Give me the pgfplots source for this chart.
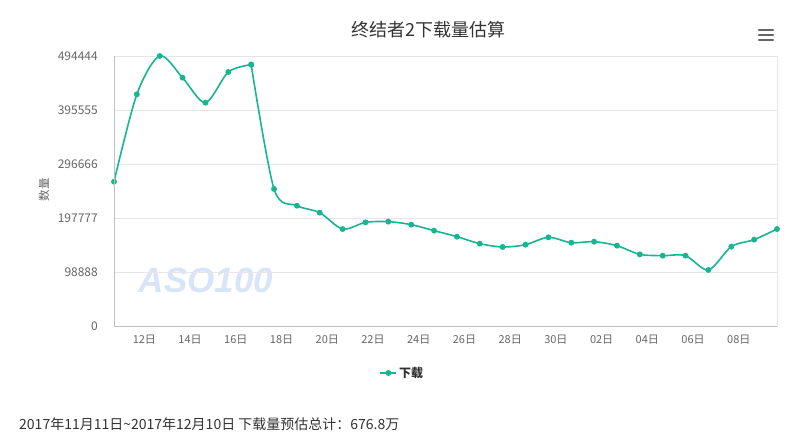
\documentclass[border=0pt]{standalone}
\usepackage{fontspec}
\setmainfont{Noto Sans CJK SC}
\newfontfamily\wmfont{Liberation Sans}
\usepackage{pgfplots}
\pgfplotsset{compat=1.18}
\definecolor{linec}{RGB}{23,181,146}
\definecolor{gridc}{RGB}{230,230,230}
\definecolor{axc}{RGB}{192,192,192}
\definecolor{tickc}{RGB}{102,102,102}
\definecolor{titc}{RGB}{51,51,51}
\definecolor{wmc}{RGB}{216,229,248}
\pgfplotsset{myline/.style={color=linec, line width=1.6pt, smooth, tension=0.5, mark=*, mark size=2.1bp, mark options={solid, fill=linec, draw=none}}}
\begin{document}
\begin{tikzpicture}
\useasboundingbox[fill=white] (0,0) rectangle (802bp,435bp);
% watermark
\node[font=\wmfont\bfseries\itshape\fontsize{35bp}{40bp}\selectfont, text=wmc, anchor=center] at (206bp,155bp) {ASO100};
\begin{axis}[
  at={(114bp,109bp)}, anchor=south west,
  scale only axis, width=663bp, height=270bp,
  xmin=0, xmax=29, ymin=0, ymax=494444,
  clip=false,
  scaled y ticks=false,
  axis line style={draw=gridc},
  xtick={1,3,5,7,9,11,13,15,17,19,21,23,25,27},
  xticklabels={12日,14日,16日,18日,20日,22日,24日,26日,28日,30日,02日,04日,06日,08日},
  ytick={0,98888,197777,296666,395555,494444},
  yticklabels={0,98888,197777,296666,395555,494444},
  major tick length=0pt,
  ymajorgrids, grid style={draw=gridc, line width=0.8pt},
  tick label style={font=\fontsize{11bp}{13bp}\selectfont, text=tickc, inner sep=0pt},
  xticklabel style={anchor=center, yshift=-14bp, xshift=7.5bp},
  yticklabel style={anchor=east, xshift=-16bp, font=\fontsize{12bp}{14bp}\selectfont},
  /pgf/number format/assume math mode=true,
  ylabel={数量},
  every axis y label/.style={at={(axis description cs:-0.1056,0.504)}, rotate=90, anchor=center, font=\fontsize{11.5bp}{13bp}\selectfont, text=tickc},
  legend style={at={(axis description cs:0.435,-0.174)}, anchor=center, draw=none, fill=none, font=\bfseries\fontsize{12bp}{14bp}\selectfont, text=titc, inner sep=0pt},
  legend image code/.code={\draw[mark repeat=2,mark phase=2,#1] plot coordinates {(0bp,0bp) (8bp,0bp) (16bp,0bp)};},
  after end axis/.code={
    \draw[axc, line width=0.8pt] (rel axis cs:0,0) -- (rel axis cs:1,0);
    \draw[axc, line width=0.8pt] (rel axis cs:0,0) -- (rel axis cs:0,1);
  },
]
\addplot[myline] coordinates {
(0,264250) (1,424300) (2,494444) (3,454700) (4,409000) (5,465100) (6,478600)
};
\addlegendentry{下载}
\addplot[myline, forget plot] coordinates {
(6,478600) (7,250900) (8,220300) (9,207500)
(10,177600) (11,189800) (12,191100) (13,185600) (14,174600) (15,163600) (16,150800) (17,144700) (18,148900) (19,162400)
(20,152600) (21,154400) (22,147100) (23,131200) (24,128800) (25,128800) (26,102600) (27,145300) (28,158100) (29,177600)
};
\end{axis}
% title
\node[font=\fontsize{18bp}{20bp}\selectfont, text=titc, anchor=center] at (428bp,405bp) {终结者2下载量估算};
% menu icon
\foreach \yy in {405,400,395}{\draw[tickc, line width=2.2bp, line cap=round] (759bp,\yy bp) -- (773bp,\yy bp);}
% footer
\node[font=\fontsize{14bp}{16bp}\selectfont, text=titc, anchor=west, inner sep=0pt] at (19bp,11bp) {2017年11月11日\textasciitilde2017年12月10日 下载量预估总计：676.8万};
\end{tikzpicture}
\end{document}
